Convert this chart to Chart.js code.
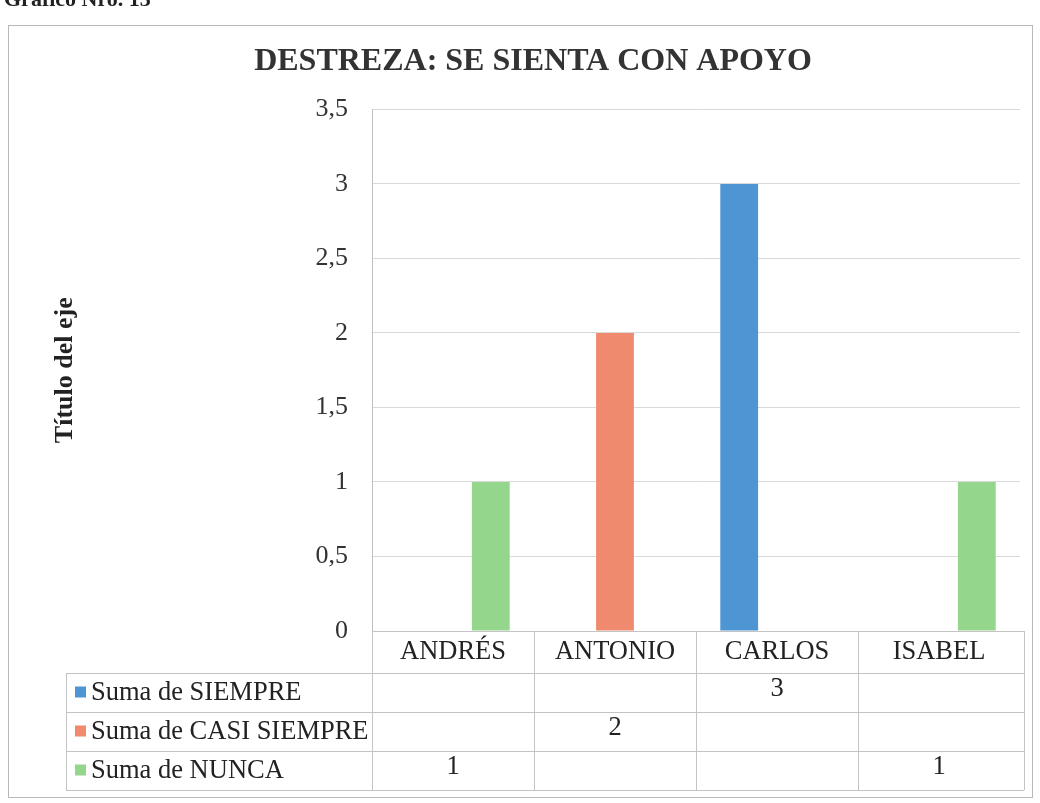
<!DOCTYPE html>
<html>
<head>
<meta charset="utf-8">
<script src="https://cdn.jsdelivr.net/npm/chart.js@4"></script>
<style>
  html, body { margin: 0; padding: 0; background: #fff; }
  #wrap { width: 1040px; height: 803px; }
</style>
</head>
<body>
<div id="wrap"><canvas id="chart"></canvas></div>
<script>
const categories = ['ANDRÉS', 'ANTONIO', 'CARLOS', 'ISABEL'];
const seriesNames = ['Suma de SIEMPRE', 'Suma de CASI SIEMPRE', 'Suma de NUNCA'];
const siempre = [null, null, 3, null];
const casiSiempre = [null, 2, null, null];
const nunca = [1, null, null, 1];
const yTicks = [0, 0.5, 1, 1.5, 2, 2.5, 3, 3.5];

const colors = ['#4e95d4', '#ef8a6e', '#93d68c'];
const serif = "'Liberation Serif', 'Times New Roman', Times, serif";

// draws the frame, page caption and the data table under the plot
const tablePlugin = {
    id: 'dataTable',
    beforeDraw(chart) {
        const ctx = chart.ctx;
        ctx.save();
        ctx.fillStyle = '#fff';
        ctx.fillRect(0, 0, chart.width, chart.height);
        ctx.strokeStyle = '#b8b8b8';
        ctx.lineWidth = 1;
        ctx.strokeRect(8.5, 25.5, 1024, 772);
        ctx.fillStyle = '#222';
        ctx.font = 'bold 22px ' + serif;
        ctx.textBaseline = 'alphabetic';
        ctx.fillText('Gráfico Nro. 13', 4, 6);
        ctx.restore();
    },
    afterDraw(chart) {
        const ctx = chart.ctx;
        const area = chart.chartArea;
        const x = chart.scales.x;
        const rows = [siempre, casiSiempre, nunca];
        const headerTop = area.bottom;
        const headerH = 42;
        const rowH = 39;
        const labelLeft = 66;
        const right = area.right + 4;
        const bottom = headerTop + headerH + rowH * rows.length;

        ctx.save();
        ctx.strokeStyle = '#c4c4c4';
        ctx.lineWidth = 1;

        // horizontal lines
        ctx.beginPath();
        ctx.moveTo(area.left, Math.round(headerTop) + 0.5);
        ctx.lineTo(right, Math.round(headerTop) + 0.5);
        for (let i = 0; i <= rows.length; i++) {
            const y = Math.round(headerTop + headerH + rowH * i) + 0.5;
            ctx.moveTo(labelLeft, y);
            ctx.lineTo(right, y);
        }
        // vertical lines
        const half = (x.getPixelForValue(1) - x.getPixelForValue(0)) / 2;
        const bounds = categories.map((c, i) => x.getPixelForValue(i) - half);
        bounds.push(right);
        bounds.forEach(b => {
            ctx.moveTo(Math.round(b) + 0.5, headerTop);
            ctx.lineTo(Math.round(b) + 0.5, bottom);
        });
        ctx.moveTo(labelLeft + 0.5, headerTop + headerH);
        ctx.lineTo(labelLeft + 0.5, bottom);
        ctx.stroke();

        ctx.font = '26.5px ' + serif;
        ctx.fillStyle = '#222';
        ctx.textBaseline = 'middle';

        // header
        ctx.textAlign = 'center';
        categories.forEach((c, i) => {
            ctx.fillText(c, x.getPixelForValue(i), headerTop + headerH / 2);
        });

        // series rows
        rows.forEach((vals, r) => {
            const cy = headerTop + headerH + rowH * r + rowH / 2;
            ctx.fillStyle = colors[r];
            ctx.fillRect(labelLeft + 9, cy - 6, 11, 11);
            ctx.fillStyle = '#222';
            ctx.textAlign = 'left';
            ctx.fillText(seriesNames[r], labelLeft + 25, cy + 1);
            ctx.textAlign = 'center';
            vals.forEach((v, i) => {
                if (v !== null) {
                    ctx.fillText(String(v), x.getPixelForValue(i), cy - 3);
                }
            });
        });
        ctx.restore();
    }
};

new Chart(document.getElementById('chart'), {
    type: 'bar',
    data: {
        labels: categories,
        datasets: [
            { label: seriesNames[0], data: siempre, backgroundColor: colors[0] },
            { label: seriesNames[1], data: casiSiempre, backgroundColor: colors[1] },
            { label: seriesNames[2], data: nunca, backgroundColor: colors[2] }
        ]
    },
    options: {
        responsive: true,
        maintainAspectRatio: false,
        animation: false,
        datasets: {
            bar: { barPercentage: 1, categoryPercentage: 0.7, skipNull: false }
        },
        layout: { padding: { left: 46, right: 20, top: 43, bottom: 172 } },
        plugins: {
            legend: { display: false },
            tooltip: { enabled: false },
            title: {
                display: true,
                text: 'DESTREZA: SE SIENTA CON APOYO',
                color: '#333',
                font: { family: serif, size: 32, weight: 'bold' },
                padding: { top: 0, bottom: 28 }
            }
        },
        scales: {
            x: {
                display: false
            },
            y: {
                min: 0,
                max: 3.5,
                afterBuildTicks: scale => {
                    scale.ticks = yTicks.map(v => ({ value: v }));
                },
                afterFit: scale => {
                    scale.width = 326;
                },
                grid: { color: '#d9d9d9', drawTicks: false },
                border: { color: '#c0c0c0' },
                ticks: {
                    color: '#333',
                    padding: 24,
                    font: { family: serif, size: 26 },
                    callback: v => String(v).replace('.', ',')
                },
                title: {
                    display: true,
                    text: 'Título del eje',
                    color: '#222',
                    font: { family: serif, size: 26, weight: 'bold' },
                    padding: { top: 4, bottom: 0 }
                }
            }
        }
    },
    plugins: [tablePlugin]
});
</script>
</body>
</html>
